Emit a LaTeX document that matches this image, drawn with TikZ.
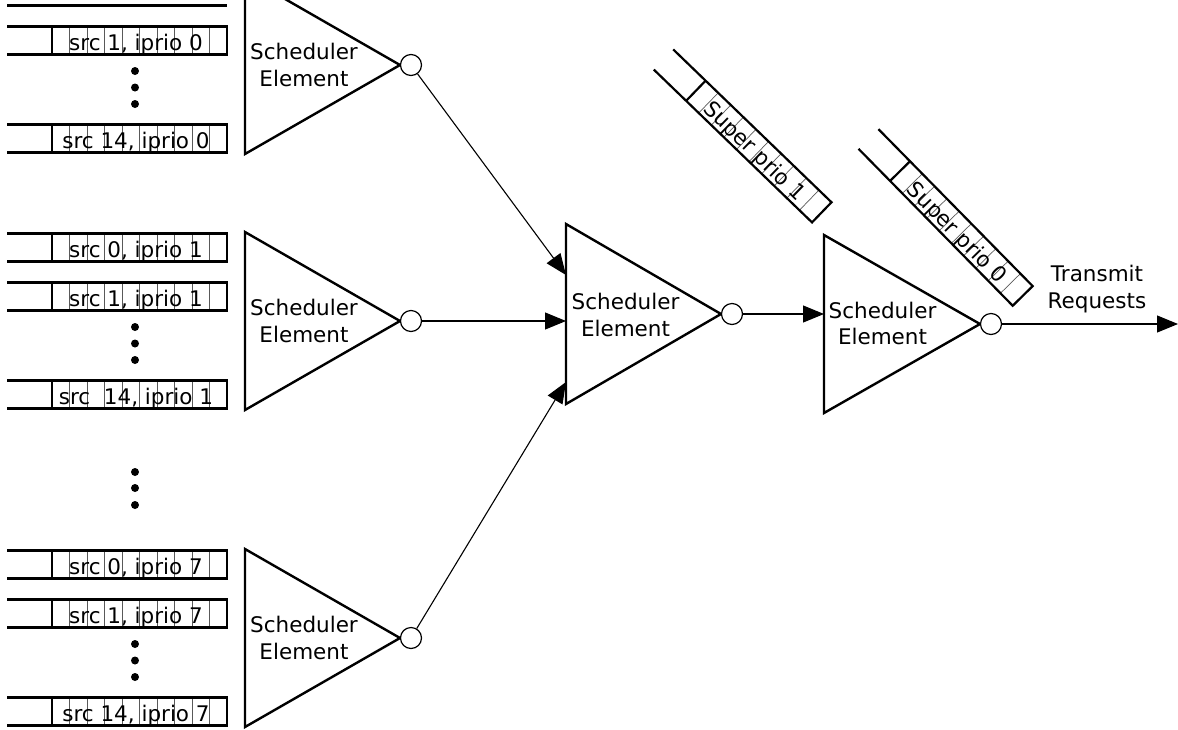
\documentclass[tikz,border=0pt]{standalone}
\usepackage{fontspec}
\setmainfont{DejaVu Sans}
\usetikzlibrary{arrows.meta}

\begin{document}
\begin{tikzpicture}[
  x=1pt, y=-1pt,
  >={Triangle[length=21pt,width=17pt]},
  font=\fontsize{21.5}{26.5}\selectfont,
  sched/.style={draw,line width=2.4pt,line join=miter},
  lbl/.style={align=center,inner sep=0pt},
  qtext/.style={inner sep=0pt,anchor=base},
  port/.style={circle,draw,line width=1.2pt,minimum size=21pt,inner sep=0pt,fill=white},
  flow/.style={->,line width=1.1pt},
  qline/.style={line width=2.2pt},
  cell/.style={line width=0.7pt,black!65},
  pics/fifo/.style={code={
    \foreach \k in {1,...,9}
      \draw[cell] ({45+17.5*\k},-14) -- ({45+17.5*\k},14);
    \draw[qline] (0,-14) -- (220,-14) -- (220,14) -- (0,14)
                 (45,-14) -- (45,14);
    \node[qtext] (-txt) at (129,9.5) {#1};
  }}
]
\useasboundingbox (0,0) rectangle (1178,729);
\clip (0,0) rectangle (1178,729);

% queues, iprio 0 (upper one cut by the page edge)
\draw[qline] (7,5.5) -- (227,5.5);
\pic (q01)  at (7,40.5)  {fifo={src 1, iprio 0}};
\pic (q014) at (7,138.5) {fifo={src 14, iprio 0}};

% queues, iprio 1
\pic (q10)  at (7,247.5) {fifo={src 0, iprio 1}};
\pic (q11)  at (7,296.5) {fifo={src 1, iprio 1}};
\pic (q114) at (7,394.5) {fifo={src\ \ 14, iprio 1}};

% queues, iprio 7
\pic (q70)  at (7,564.5) {fifo={src 0, iprio 7}};
\pic (q71)  at (7,613.5) {fifo={src 1, iprio 7}};
\pic (q714) at (7,711.5) {fifo={src 14, iprio 7}};

\foreach \y in {71,87.5,104,327,343.5,360,472,488,505,644,660.5,677}
  \fill (135,\y) circle (4pt);

% first stage
\draw[sched] (245,-24) -- (400,65) -- (245,154) -- cycle;
\node[lbl] (se1) at (304,65) {Scheduler\\Element};
\node[port] (o1) at (411,65) {};

\draw[sched] (245,232) -- (400,321) -- (245,410) -- cycle;
\node[lbl] (se2) at (304,321) {Scheduler\\Element};
\node[port] (o2) at (411,321) {};

\draw[sched] (245,549) -- (400,638) -- (245,727) -- cycle;
\node[lbl] (se3) at (304,638) {Scheduler\\Element};
\node[port] (o3) at (411,638) {};

% second stage
\draw[sched] (566,224) -- (721,314) -- (566,404) -- cycle;
\node[lbl] (sem) at (625.5,315) {Scheduler\\Element};
\node[port] (om) at (732,314) {};
\coordinate (mi1) at (566,275);
\coordinate (mi2) at (566,321);
\coordinate (mi3) at (566,382);

% last stage
\draw[sched] (824,235) -- (980,324) -- (824,413) -- cycle;
\node[lbl] (ser) at (882.5,323.5) {Scheduler\\Element};
\node[port] (or) at (991,324) {};
\coordinate (ri) at (824,314);

% super priority queues
\pic[rotate=-44,transform shape] (sq1) at (663.5,59.5) {fifo={Super prio 1}};
\pic[rotate=-45.5,transform shape] (sq0) at (868.5,139) {fifo={Super prio 0}};

\draw[flow] (o1) -- (mi1);
\draw[flow] (o2) -- (mi2);
\draw[flow] (o3) -- (mi3);
\draw[flow] (om) -- (ri);

\coordinate (txend) at (1178,324);
\draw[flow] (or) -- (txend);
\node[lbl] (tx) at (1097,289) {Transmit\\Requests};
\end{tikzpicture}
\end{document}
